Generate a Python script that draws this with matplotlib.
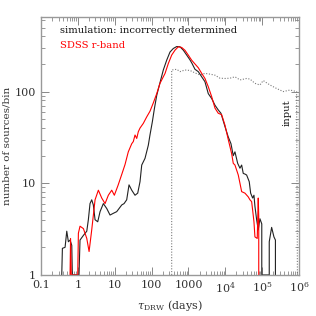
import matplotlib
matplotlib.use("Agg")
import matplotlib.pyplot as plt
from matplotlib.ticker import LogLocator, FixedLocator, NullFormatter

plt.rcParams['font.family'] = ['DejaVu Serif']
plt.rcParams['mathtext.fontset'] = 'dejavuserif'

# simulation: incorrectly determined (black)
sim_tau = [0.364, 0.379, 0.448, 0.498, 0.551, 0.612, 0.681, 0.706,
           1.07, 1.14, 1.41, 1.74, 1.92, 2.13, 2.37, 2.62, 2.92, 3.45, 3.99, 4.90,
           6.06, 7.45, 9.15, 11.3, 15.5, 17.9, 21.1, 24.4, 28.9, 35.5, 42.0, 48.5,
           54.0, 66.3, 81.5, 90.4, 105, 119, 138, 169, 208, 257, 316, 388, 481,
           590, 726, 898, 1100, 1250, 1507, 1853, 2291, 2812, 3458, 4276, 5257,
           6457, 7638, 9820, 12050, 14290, 16480, 18330, 21700, 25060, 27860,
           30780, 34200, 38020, 44770, 48870, 55340, 60100, 63900, 71100, 78600,
           87300, 98000, 98000, 156300, 156300, 181500, 209500, 230000, 230000]
sim_n = [1, 1.95, 2.0, 3.0, 2.3, 2.4, 2.1, 1,
         1, 2.4, 2.7, 3.0, 4.0, 6.0, 6.6, 5.8, 4.0, 3.8, 4.9, 6.0,
         5.3, 4.5, 4.7, 4.9, 5.8, 6.0, 6.6, 9.6, 8.4, 7.4, 7.8, 10.4,
         15.8, 18.7, 26, 33.6, 47, 65, 91, 125, 172, 220, 270, 295, 310,
         308, 283, 250, 222, 203, 175, 165, 145, 128, 95, 84, 71,
         63, 58, 41.5, 32, 27, 20, 22, 16.5, 14.6, 15.8,
         12.8, 12.6, 12.3, 10.4, 7.8, 6.9, 7.4, 5.6, 4.0, 3.1,
         4.1, 3.6, 1, 1, 2.3, 3.3, 2.6, 2.4, 1]

# SDSS r-band (red)
sdss_tau = [0.612, 0.631, 0.659, 0.989, 1.03, 1.14, 1.41, 1.74, 2.01, 2.37,
            2.92, 3.59, 4.43, 5.45, 6.70, 8.28, 9.75, 12.3, 15.5, 19.0, 23.3,
            28.9, 31.9, 35.5, 39.5, 43.6, 48.5, 59.6, 73.8, 90.4, 111, 138, 169,
            232, 284, 351, 432, 531, 656, 807, 991, 1225, 1507, 1853, 2291, 2812,
            3458, 4276, 5257, 6457, 7980, 9820, 12050, 14920, 16480, 18330,
            22540, 25060, 27860, 34200, 42070, 46770, 52000, 55340, 60100,
            63900, 73800, 78600, 81100, 81100]
sdss_n = [1, 2.5, 1, 1, 2.85, 3.4, 3.2, 2.5, 1.8, 3.1,
          6.6, 8.4, 6.9, 6.0, 7.4, 8.4, 7.4, 9.5, 12.5, 16, 22,
          27, 28.5, 33.6, 30.8, 36.5, 40, 45, 53, 61, 75, 95, 123,
          158, 202, 250, 283, 308, 303, 282, 250, 220, 200, 182, 158, 139,
          113, 88, 66, 58, 56, 43, 30, 21, 16.5, 15.8,
          12.3, 10, 8.1, 7.8, 7.1, 6.6, 6.3, 5.1, 3.8,
          2.6, 2.5, 6.9, 4.3, 1]

# input distribution (dotted)
inp_tau = [351, 351, 481, 590, 807, 1100, 1507, 2061, 2812, 3846, 5257, 7178,
           9820, 13430, 18330, 25060, 38020, 46770, 63900, 87300, 107400,
           127000, 163300, 248300, 375000, 570000, 865000, 910000]
inp_n = [1, 172, 175, 165, 172, 170, 160, 152, 158, 155, 151, 140,
         139, 140, 145, 134, 139, 137, 123, 118, 132,
         126, 118, 108, 100, 104, 100, 1]

xtick_vals = [0.1, 1, 10, 100, 1000, 1e4, 1e5, 1e6]
xtick_labels = ['0.1', '1', '10', '100', '1000', r'$10^4$', r'$10^5$', r'$10^6$']
ytick_vals = [1, 10, 100]
ytick_labels = ['1', '10', '100']

fig = plt.figure(figsize=(3.16, 3.16), dpi=100)
ax = fig.add_axes([0.130, 0.130, 0.816, 0.816])

ax.plot(inp_tau, inp_n, color='#7a7a7a', lw=0.8, ls=(0, (1, 1.5)))
ax.plot(sim_tau, sim_n, color='#222222', lw=0.8)
ax.plot(sdss_tau, sdss_n, color='red', lw=0.8)

ax.set_xscale('log')
ax.set_yscale('log')
ax.set_xlim(0.1, 1e6)
ax.set_ylim(1, 650)

ax.xaxis.set_major_locator(FixedLocator(xtick_vals))
ax.set_xticklabels(xtick_labels)
ax.yaxis.set_major_locator(FixedLocator(ytick_vals))
ax.set_yticklabels(ytick_labels)
ax.xaxis.set_minor_locator(LogLocator(base=10, subs=range(2, 10), numticks=20))
ax.yaxis.set_minor_locator(LogLocator(base=10, subs=range(2, 10), numticks=20))
ax.xaxis.set_minor_formatter(NullFormatter())
ax.yaxis.set_minor_formatter(NullFormatter())

ax.tick_params(which='both', direction='in', top=True, right=True,
               color='#888888', labelsize=8, labelcolor='#333333')
ax.tick_params(which='major', length=6, width=0.7, pad=4)
ax.tick_params(which='minor', length=3, width=0.6)
for s in ax.spines.values():
    s.set_color('#999999')
    s.set_linewidth(1.0)

ax.set_xlabel(r'$\tau_{\rm DRW}$ (days)', fontsize=8, color='#333333', labelpad=2)
ax.set_ylabel('number of sources/bin', fontsize=7.5, color='#333333', labelpad=2)

ax.text(0.074, 0.946, 'simulation: incorrectly determined', transform=ax.transAxes,
        fontsize=7.2, color='#111111', va='center', ha='left')
ax.text(0.074, 0.891, 'SDSS r-band', transform=ax.transAxes,
        fontsize=7.2, color='red', va='center', ha='left')
ax.text(0.953, 0.628, 'input', transform=ax.transAxes, rotation=90,
        fontsize=7.2, color='#111111', va='center', ha='center')

fig.savefig('out.png', dpi=100)
